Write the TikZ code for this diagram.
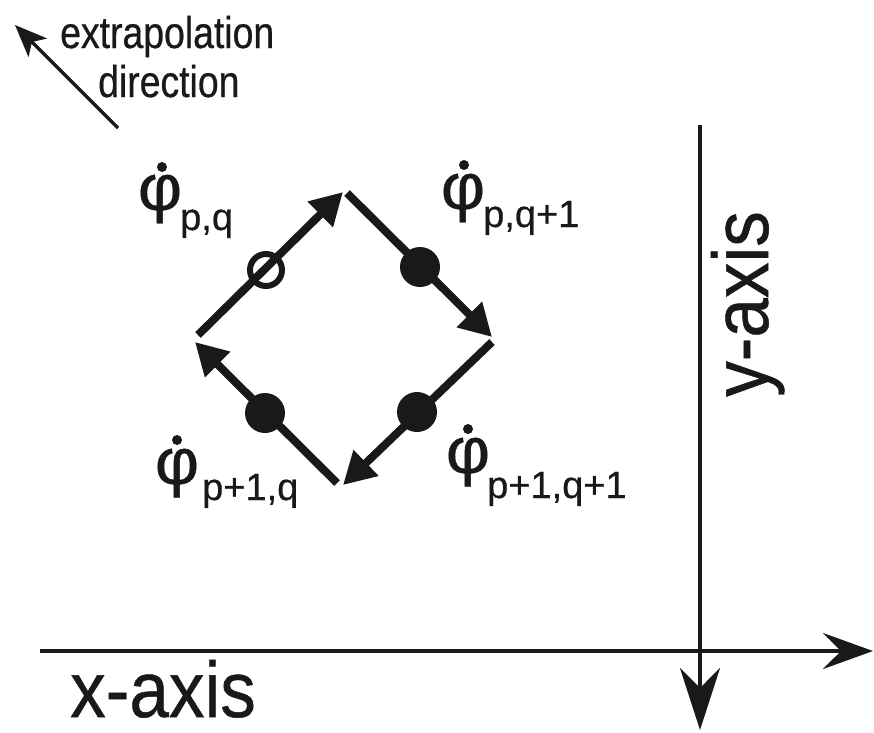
\documentclass[tikz,border=0pt]{standalone}
\usepackage{fontspec}
\setmainfont{Liberation Sans}
\newfontfamily\heavy{Liberation Sans}[FakeBold=0.6]
\usetikzlibrary{arrows.meta}
\definecolor{ink}{RGB}{25,25,25}
\begin{document}
\begin{tikzpicture}[x=1pt,y=-1pt,
  edge/.style={ink,line width=8pt,-{Triangle[length=32pt,width=34pt]}},
  fdot/.style={circle,fill=ink,minimum size=40pt,inner sep=0pt},
  odot/.style={circle,draw=ink,line width=6pt,minimum size=32pt,inner sep=0pt},
  axis/.style={ink,line width=3.5pt},
  axlabel/.style={text=ink,inner sep=0pt,font=\heavy\fontsize{79}{79}\selectfont},
  smalltext/.style={text=ink,inner sep=0pt,anchor=base west,font=\heavy\fontsize{44.5}{46}\selectfont},
  phiglyph/.style={text=ink,inner sep=0pt,anchor=center,font=\heavy\fontsize{65}{65}\selectfont},
  subtext/.style={text=ink,inner sep=0pt,anchor=base west,font=\heavy\fontsize{38}{40}\selectfont},
  accent/.style={circle,fill=ink,minimum size=10pt,inner sep=0pt}]
\useasboundingbox (0,0) rectangle (874,732);
\fill[white] (0,0) rectangle (874,732);
% extrapolation direction
\node[smalltext] (t1) at (60,48) {\scalebox{0.84}[1]{extrapolation}};
\node[smalltext] (t2) at (98,97) {\scalebox{0.84}[1]{direction}};
\coordinate (es) at (118,128);
\coordinate (ee) at (15,25);
\draw[ink,line width=3.5pt,-{Stealth[length=32pt,width=26pt,inset=8pt]}] (es) -- (ee);
% diamond
\coordinate (L1) at (198,335); \coordinate (T1) at (343,192);
\coordinate (T2) at (347,193); \coordinate (R1) at (492,337);
\coordinate (R2) at (492,342); \coordinate (B1) at (343,485);
\coordinate (B2) at (337,483); \coordinate (L2) at (195,342);
\draw[edge] (L1) -- (T1);
\draw[edge] (T2) -- (R1);
\draw[edge] (R2) -- (B1);
\draw[edge] (B2) -- (L2);
\node[odot] (c1) at (266,270) {};
\node[fdot] (c2) at (420,267) {};
\node[fdot] (c3) at (417,412) {};
\node[fdot] (c4) at (265,413) {};
% labels
\node[phiglyph] (p1) at (160,199) {\scalebox{1.05}[1]{φ}};
\node[accent] (a1) at (162,167) {};
\node[subtext] (s1) at (180,230) {p,q};
\node[phiglyph] (p2) at (463,198) {\scalebox{1.05}[1]{φ}};
\node[accent] (a2) at (464,165) {};
\node[subtext] (s2) at (483,227) {p,q+1};
\node[phiglyph] (p3) at (177,473) {\scalebox{1.05}[1]{φ}};
\node[accent] (a3) at (177,440) {};
\node[subtext] (s3) at (202,500) {p+1,q};
\node[phiglyph] (p4) at (468,462) {\scalebox{1.05}[1]{φ}};
\node[accent] (a4) at (468,429) {};
\node[subtext] (s4) at (487,498) {p+1,q+1};
% axes
\coordinate (xs) at (40,651); \coordinate (xe) at (873,651);
\draw[axis,-{Stealth[length=50pt,width=36pt,inset=18pt]}] (xs) -- (xe);
\coordinate (ys) at (700,125); \coordinate (ye) at (700,730);
\draw[axis,-{Stealth[length=62pt,width=40pt,inset=20pt]}] (ys) -- (ye);
\node[axlabel,anchor=base west] (xl) at (70,717) {\scalebox{0.9}[1]{x-axis}};
\node[axlabel,anchor=base west,rotate=90] (yl) at (768,397) {\scalebox{0.9}[1]{y-axis}};
\end{tikzpicture}
\end{document}
